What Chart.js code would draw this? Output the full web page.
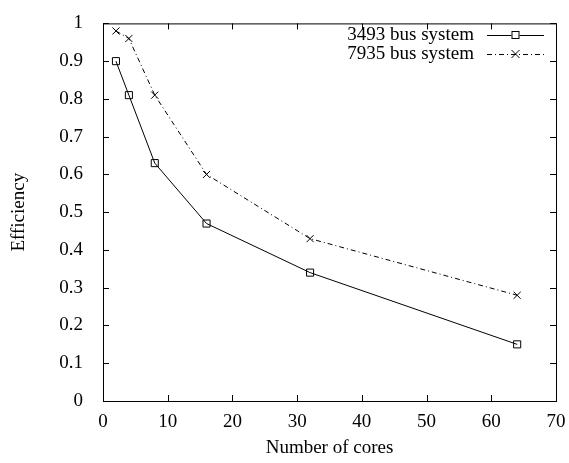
<!DOCTYPE html>
<html lang="en">
<head>
<meta charset="UTF-8">
<title>Efficiency</title>
<script src="https://cdn.jsdelivr.net/npm/chart.js@4.4.0/dist/chart.umd.min.js"></script>
<style>
  html, body { margin: 0; padding: 0; background: #fff; }
  #wrap { width: 569px; height: 463px; }
</style>
</head>
<body>
<div id="wrap"><canvas id="chart" width="569" height="463"></canvas></div>
<script>
// data
const cores = [2, 4, 8, 16, 32, 64];
const eff3493 = [0.90, 0.81, 0.63, 0.47, 0.34, 0.15];
const eff7935 = [0.98, 0.96, 0.81, 0.60, 0.43, 0.28];
const seriesNames = ['3493 bus system', '7935 bus system'];
const xTicks = [0, 10, 20, 30, 40, 50, 60, 70];
const yTicks = [0, 0.1, 0.2, 0.3, 0.4, 0.5, 0.6, 0.7, 0.8, 0.9, 1];

const FONT = 'Liberation Serif';
const FSIZE = 19;
const dashDot = [5, 3, 1, 3];

function pts(xs, ys) {
  return xs.map((x, i) => ({ x: x, y: ys[i] }));
}

// frame, inward ticks on all sides, gnuplot-style key
const gnuplotBits = {
  id: 'gnuplotBits',
  afterDraw(chart) {
    const ctx = chart.ctx;
    const a = chart.chartArea;
    const xs = chart.scales.x, ys = chart.scales.y;
    ctx.save();
    ctx.strokeStyle = '#000';
    ctx.lineWidth = 1;
    ctx.strokeRect(a.left + 0.5, a.top + 0.5, a.right - a.left, a.bottom - a.top);
    ctx.beginPath();
    xTicks.forEach(v => {
      const px = Math.round(xs.getPixelForValue(v)) + 0.5;
      ctx.moveTo(px, a.bottom); ctx.lineTo(px, a.bottom - 6);
      ctx.moveTo(px, a.top); ctx.lineTo(px, a.top + 6);
    });
    yTicks.forEach(v => {
      const py = Math.round(ys.getPixelForValue(v)) + 0.5;
      ctx.moveTo(a.left, py); ctx.lineTo(a.left + 6, py);
      ctx.moveTo(a.right, py); ctx.lineTo(a.right - 6, py);
    });
    ctx.stroke();

    // key
    ctx.font = FSIZE + 'px "' + FONT + '"';
    ctx.textAlign = 'right';
    ctx.textBaseline = 'middle';
    ctx.fillStyle = '#000';
    const textRight = a.right - 82;
    const lx0 = a.right - 69, lx1 = a.right - 12;
    const rows = [35, 54];
    chart.data.datasets.forEach((ds, i) => {
      const y = rows[i];
      ctx.fillText(seriesNames[i], textRight, y);
      ctx.beginPath();
      ctx.setLineDash(ds.borderDash || []);
      ctx.moveTo(lx0, y + 0.5); ctx.lineTo(lx1, y + 0.5);
      ctx.stroke();
      ctx.setLineDash([]);
      const cx = (lx0 + lx1) / 2;
      ctx.beginPath();
      if (ds.pointStyle === 'rect') {
        ctx.fillStyle = '#fff';
        ctx.fillRect(cx - 4, y - 4, 8, 8);
        ctx.strokeRect(cx - 3.5, y - 3.5, 7, 7);
        ctx.fillStyle = '#000';
      } else {
        ctx.moveTo(cx - 4, y - 4); ctx.lineTo(cx + 4, y + 4);
        ctx.moveTo(cx - 4, y + 4); ctx.lineTo(cx + 4, y - 4);
        ctx.stroke();
      }
    });
    ctx.restore();
  }
};

new Chart(document.getElementById('chart'), {
  type: 'scatter',
  data: {
    datasets: [{
      label: seriesNames[0],
      data: pts(cores, eff3493),
      showLine: true,
      borderColor: '#000',
      borderWidth: 1,
      pointStyle: 'rect',
      pointRadius: 5,
      pointBackgroundColor: 'rgba(0,0,0,0)',
      pointBorderColor: '#000',
      pointBorderWidth: 1
    }, {
      label: seriesNames[1],
      data: pts(cores, eff7935),
      showLine: true,
      borderColor: '#000',
      borderWidth: 1,
      borderDash: dashDot,
      pointStyle: 'crossRot',
      pointRadius: 5,
      pointBorderColor: '#000',
      pointBorderWidth: 1
    }]
  },
  options: {
    responsive: false,
    animation: false,
    layout: { padding: { top: 16, right: 13, left: 0, bottom: 0 } },
    plugins: { legend: { display: false }, tooltip: { enabled: false } },
    scales: {
      x: {
        type: 'linear', min: 0, max: 70,
        afterBuildTicks(s) { s.ticks = xTicks.map(v => ({ value: v })); },
        afterFit(s) { s.height = 62; },
        grid: { display: false },
        border: { display: false },
        ticks: { color: '#000', padding: 2, maxRotation: 0, font: { family: FONT, size: FSIZE },
                 callback: v => String(v) },
        title: { display: true, text: 'Number of cores', color: '#000', padding: { top: 13 }, font: { family: FONT, size: FSIZE } }
      },
      y: {
        type: 'linear', min: 0, max: 1,
        afterBuildTicks(s) { s.ticks = yTicks.map(v => ({ value: v })); },
        afterFit(s) { s.width = 103; },
        grid: { display: false },
        border: { display: false },
        ticks: { color: '#000', padding: 12, font: { family: FONT, size: FSIZE },
                 callback: v => String(Math.round(v * 10) / 10) },
        title: { display: true, text: 'Efficiency', color: '#000', padding: { bottom: 0, top: 8 }, font: { family: FONT, size: FSIZE } }
      }
    }
  },
  plugins: [gnuplotBits]
});
</script>
</body>
</html>
